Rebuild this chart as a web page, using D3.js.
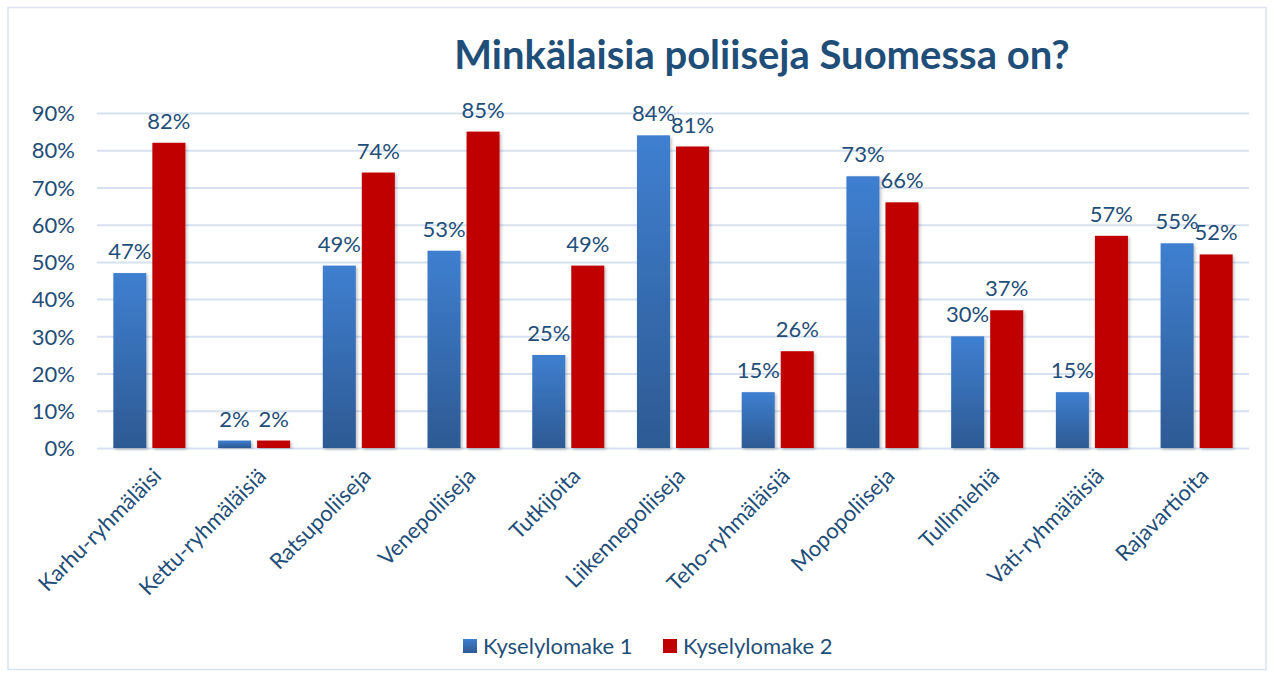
<!DOCTYPE html>
<meta charset="utf-8">
<html lang="fi">
<head>
    <title>Minkälaisia poliiseja Suomessa on?</title>
    <script src="https://d3js.org/d3.v7.min.js"></script>
    <style>
        body { margin: 0; background: #fff; font-family: Lato, "Open Sans", sans-serif; }
        .axis path, .axis line { display: none; }
        .axis text { font: 22px Lato, sans-serif; fill: #1F4E79; }
        .grid line { stroke: #D6E1F1; stroke-width: 2; }
        .grid path { display: none; }
    </style>
</head>
<body>
    <svg width="1274" height="677"></svg>
    <script>
        // Data
        var categories = ["Karhu-ryhmäläisi", "Kettu-ryhmäläisiä", "Ratsupoliiseja", "Venepoliiseja",
            "Tutkijoita", "Liikennepoliiseja", "Teho-ryhmäläisiä", "Mopopoliiseja", "Tullimiehiä",
            "Vati-ryhmäläisiä", "Rajavartioita"];
        var kysely1 = [47, 2, 49, 53, 25, 84, 15, 73, 30, 15, 55];
        var kysely2 = [82, 2, 74, 85, 49, 81, 26, 66, 37, 57, 52];
        var seriesNames = ["Kyselylomake 1", "Kyselylomake 2"];
        var yTicks = [0, 10, 20, 30, 40, 50, 60, 70, 80, 90];

        var svg = d3.select("svg");
        var plotLeft = 97, plotRight = 1249, plotTop = 113, plotBottom = 448;

        // chart border
        svg.append("rect")
            .attr("x", 8).attr("y", 7.5)
            .attr("width", 1258).attr("height", 662)
            .attr("fill", "none")
            .attr("stroke", "#D9E3F1")
            .attr("stroke-width", 1.5);

        // gradient for series 1 + soft shadow
        var defs = svg.append("defs");
        var grad = defs.append("linearGradient")
            .attr("id", "blueGrad").attr("x1", 0).attr("y1", 0).attr("x2", 0).attr("y2", 1);
        grad.append("stop").attr("offset", "0%").attr("stop-color", "#3F7FD0");
        grad.append("stop").attr("offset", "100%").attr("stop-color", "#2D5A93");
        var shadow = defs.append("filter").attr("id", "shadow")
            .attr("x", "-20%").attr("y", "-5%").attr("width", "150%").attr("height", "115%");
        shadow.append("feDropShadow")
            .attr("dx", 1.5).attr("dy", 1.5).attr("stdDeviation", 1.5)
            .attr("flood-color", "#000").attr("flood-opacity", 0.25);

        var colors = ["url(#blueGrad)", "#C00000"];

        var x0 = d3.scaleBand()
            .domain(categories)
            .range([plotLeft, plotRight])
            .paddingInner(0.312)
            .paddingOuter(0.156);

        var x1 = d3.scaleBand()
            .domain(seriesNames)
            .range([0, x0.bandwidth()])
            .paddingInner(0.154);

        var y = d3.scaleLinear()
            .domain([0, 90])
            .range([plotBottom, plotTop]);

        // Title
        svg.append("text")
            .attr("x", 762)
            .attr("y", 69)
            .attr("text-anchor", "middle")
            .style("font", "bold 40px Lato, sans-serif")
            .style("fill", "#1F4E79")
            .text("Minkälaisia poliiseja Suomessa on?");

        // Gridlines
        svg.append("g")
            .attr("class", "grid")
            .attr("transform", "translate(" + plotLeft + ",0)")
            .call(d3.axisLeft(y).tickValues(yTicks).tickSize(-(plotRight - plotLeft)).tickFormat(""));

        // Y axis labels
        svg.append("g")
            .attr("class", "axis")
            .attr("transform", "translate(" + (plotLeft - 22) + ",0)")
            .call(d3.axisLeft(y).tickValues(yTicks).tickSize(0).tickPadding(0)
                .tickFormat(function(d) { return d + "%"; }))
            .selectAll("text").attr("dy", "0.35em");

        // Bars
        var rows = categories.map(function(c, i) {
            return { cat: c, values: [kysely1[i], kysely2[i]] };
        });

        var groups = svg.append("g")
            .selectAll("g")
            .data(rows)
            .enter().append("g")
            .attr("transform", function(d) { return "translate(" + x0(d.cat) + ",0)"; });

        groups.selectAll("rect")
            .data(function(d) {
                return d.values.map(function(v, k) { return { key: seriesNames[k], k: k, value: v }; });
            })
            .enter().append("rect")
            .attr("x", function(d) { return x1(d.key); })
            .attr("y", function(d) { return y(d.value); })
            .attr("width", x1.bandwidth())
            .attr("height", function(d) { return plotBottom - y(d.value); })
            .attr("fill", function(d) { return colors[d.k]; })
            .attr("filter", "url(#shadow)");

        // Value labels
        groups.selectAll("text")
            .data(function(d) {
                return d.values.map(function(v, k) { return { key: seriesNames[k], value: v }; });
            })
            .enter().append("text")
            .attr("x", function(d) { return x1(d.key) + x1.bandwidth() / 2; })
            .attr("y", function(d) { return y(d.value) - 14; })
            .attr("text-anchor", "middle")
            .style("font", "22px Lato, sans-serif")
            .style("fill", "#1F4E79")
            .text(function(d) { return d.value + "%"; });

        // Category labels
        svg.append("g")
            .attr("class", "axis")
            .attr("transform", "translate(0," + plotBottom + ")")
            .call(d3.axisBottom(x0).tickSize(0).tickPadding(0))
            .selectAll("text")
            .attr("transform", "translate(8,24) rotate(-45)")
            .attr("dy", "0.35em")
            .style("text-anchor", "end");

        // Legend
        var legend = svg.append("g")
            .selectAll("g")
            .data(seriesNames)
            .enter().append("g")
            .attr("transform", function(d, i) { return "translate(" + (463 + i * 200) + ",639)"; });

        legend.append("rect")
            .attr("width", 14).attr("height", 14)
            .attr("fill", function(d, i) { return colors[i]; });

        legend.append("text")
            .attr("x", 20).attr("y", 7)
            .attr("dy", "0.35em")
            .style("font", "22px Lato, sans-serif")
            .style("fill", "#1F4E79")
            .text(function(d) { return d; });
    </script>
</body>
</html>
